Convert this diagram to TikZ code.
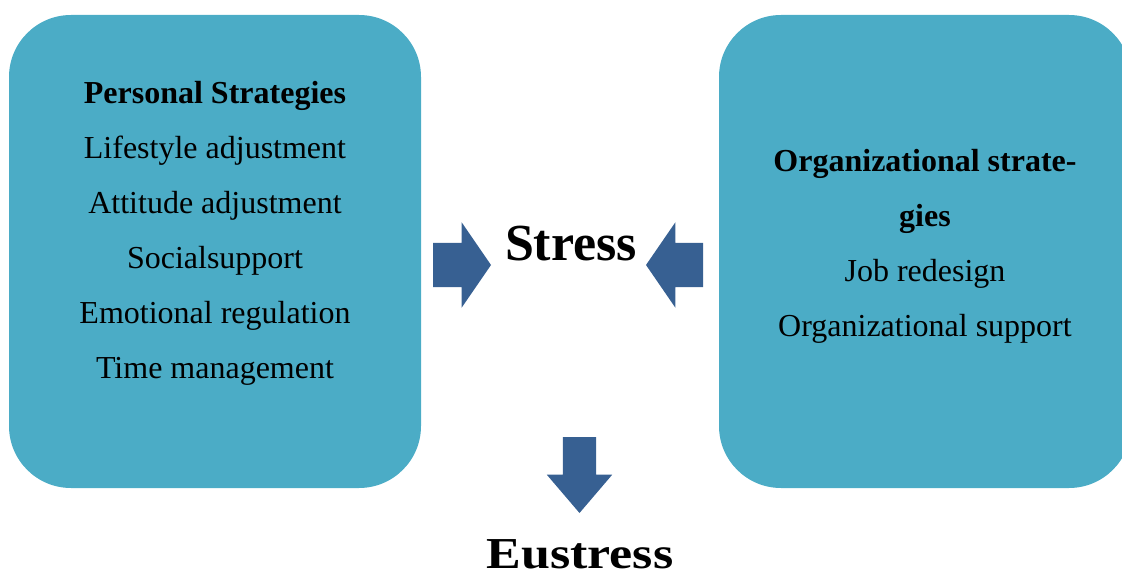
\documentclass[tikz,border=0pt]{standalone}
\usepackage{fontspec}
\setmainfont{Liberation Serif}
\usetikzlibrary{shapes.arrows}

\definecolor{boxaqua}{HTML}{4BACC6}
\definecolor{arrowblue}{HTML}{376092}

\begin{document}
\begin{tikzpicture}[x=1pt, y=-1pt,
  strategybox/.style={rectangle, draw=none, fill=boxaqua, rounded corners=62pt, minimum width=412pt, minimum height=473pt},
  listtext/.style={align=center, inner sep=0pt, font=\fontsize{32}{55}\selectfont},
  fatarrow/.style={single arrow, draw=none, fill=arrowblue, inner xsep=0pt, outer sep=0pt},
  bigword/.style={inner sep=0pt, font=\fontsize{52}{60}\selectfont\bfseries}]

\useasboundingbox (0,0) rectangle (1122,577);

% Personal strategies box
\node (personal) [strategybox] at (215,251.5) {};
\node (personal_text) [listtext, anchor=base] at (215,378) {\textbf{Personal Strategies}\\Lifestyle adjustment\\Attitude adjustment\\Socialsupport\\Emotional regulation\\Time management};

% Organizational strategies box
\node (organizational) [strategybox] at (925,251.5) {};
\node (organizational_text) [listtext, anchor=base] at (925,337) {\textbf{Organizational strate-}\\\textbf{gies}\\Job redesign\\Organizational support};

% Stress in the middle
\node (stress) [bigword, anchor=base] at (571,261) {Stress};

% Eustress at the bottom
\node (eustress) [bigword, yscale=0.85, anchor=base] at (580,568) {Eustress};

% Arrows
\node (from_personal) [fatarrow, inner ysep=22pt, minimum height=58pt, single arrow head extend=20.5pt, single arrow tip angle=111, anchor=tip] at (491,265) {};
\node (from_organizational) [fatarrow, rotate=180, inner ysep=22pt, minimum height=57pt, single arrow head extend=20.5pt, single arrow tip angle=111, anchor=tip] at (646,265) {};
\node (to_eustress) [fatarrow, rotate=-90, inner ysep=16.5pt, minimum height=76pt, single arrow head extend=16pt, single arrow tip angle=81, anchor=tip] at (579.5,513) {};

\end{tikzpicture}
\end{document}
